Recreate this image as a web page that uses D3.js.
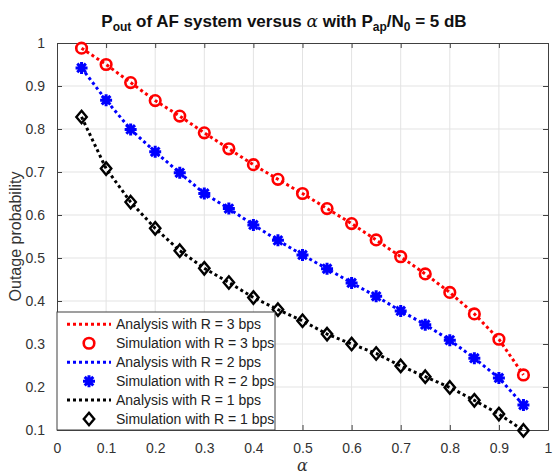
<!DOCTYPE html>
<html><head><meta charset="utf-8">
<script src="https://cdn.jsdelivr.net/npm/d3@7"></script>
<style>body{margin:0;background:#fff;} svg{display:block;font-family:"Liberation Sans",Arial,sans-serif;}</style>
</head><body>
<svg id="chart" width="558" height="474"></svg>
<script>
const alphas = [0.05,0.1,0.15,0.2,0.25,0.3,0.35,0.4,0.45,0.5,0.55,0.6,0.65,0.7,0.75,0.8,0.85,0.9,0.95];
const r3 = [0.988,0.950,0.908,0.866,0.830,0.791,0.754,0.717,0.683,0.650,0.615,0.580,0.542,0.503,0.463,0.420,0.370,0.311,0.228];
const r2 = [0.942,0.867,0.799,0.747,0.698,0.650,0.615,0.577,0.541,0.507,0.475,0.442,0.411,0.377,0.345,0.309,0.267,0.221,0.158];
const r1 = [0.828,0.708,0.630,0.569,0.517,0.476,0.443,0.408,0.380,0.354,0.323,0.300,0.278,0.249,0.224,0.199,0.169,0.137,0.099];
const xTicks = [0,0.1,0.2,0.3,0.4,0.5,0.6,0.7,0.8,0.9,1];
const yTicks = [0.1,0.2,0.3,0.4,0.5,0.6,0.7,0.8,0.9,1];
const legendLabels = ["Analysis with R = 3 bps","Simulation with R = 3 bps","Analysis with R = 2 bps","Simulation with R = 2 bps","Analysis with R = 1 bps","Simulation with R = 1 bps"];

const svg = d3.select("#chart");
const L=57, R=548, T=43, B=430;
const x = d3.scaleLinear().domain([0,1]).range([L,R]);
const y = d3.scaleLinear().domain([0.1,1]).range([B,T]);
const axisColor = "#404040";
const fmt = d => d===0?"0":d===1?"1":d3.format(".1f")(d);

// grid
const g = svg.append("g");
g.selectAll(".gx").data(xTicks.slice(1,-1)).enter().append("line")
 .attr("x1",d=>x(d)).attr("x2",d=>x(d)).attr("y1",T).attr("y2",B)
 .attr("stroke","#e3e3e3").attr("stroke-width",1);
g.selectAll(".gy").data(yTicks.slice(1,-1)).enter().append("line")
 .attr("y1",d=>y(d)).attr("y2",d=>y(d)).attr("x1",L).attr("x2",R)
 .attr("stroke","#e3e3e3").attr("stroke-width",1);

// axes
const xa = svg.append("g").attr("transform",`translate(0,${B})`)
 .call(d3.axisBottom(x).tickValues(xTicks).tickFormat(fmt).tickSizeInner(-5).tickSizeOuter(0).tickPadding(13));
const xt = svg.append("g").attr("transform",`translate(0,${T})`)
 .call(d3.axisTop(x).tickValues(xTicks).tickFormat("").tickSizeInner(-5).tickSizeOuter(0));
const ya = svg.append("g").attr("transform",`translate(${L},0)`)
 .call(d3.axisLeft(y).tickValues(yTicks).tickFormat(fmt).tickSizeInner(-5).tickSizeOuter(0).tickPadding(12));
const yr = svg.append("g").attr("transform",`translate(${R},0)`)
 .call(d3.axisRight(y).tickValues(yTicks).tickFormat("").tickSizeInner(-5).tickSizeOuter(0));
[xa,xt,ya,yr].forEach(a=>{
  a.selectAll("path").attr("stroke",axisColor);
  a.selectAll("line").attr("stroke",axisColor);
  a.selectAll("text").attr("fill","#333").style("font-size","14px").style("font-family","'Liberation Sans',Arial,sans-serif");
});

// series
const series = [
 {vals:r3,color:"#ff0000",marker:"circle"},
 {vals:r2,color:"#0000ff",marker:"star"},
 {vals:r1,color:"#000000",marker:"diamond"}
];
const line = d3.line().x(d=>x(d[0])).y(d=>y(d[1]));
function drawMarker(sel, type, color){
  if(type==="circle"){
    sel.append("circle").attr("r",5.3).attr("fill","none").attr("stroke",color).attr("stroke-width",2.6);
  } else if(type==="star"){
    const s=6, s2=s*0.72;
    sel.append("path").attr("d",`M${-s},0L${s},0M0,${-s}L0,${s}M${-s2},${-s2}L${s2},${s2}M${-s2},${s2}L${s2},${-s2}`)
      .attr("stroke",color).attr("stroke-width",3).attr("fill","none");
  } else {
    sel.append("path").attr("d","M0,-6.2L5.2,0L0,6.2L-5.2,0Z").attr("fill","none").attr("stroke",color).attr("stroke-width",2.4);
  }
}
series.forEach(s=>{
  const pts = alphas.map((a,i)=>[a,s.vals[i]]);
  svg.append("path").datum(pts).attr("d",line).attr("fill","none")
   .attr("stroke",s.color).attr("stroke-width",3).attr("stroke-dasharray","3,3");
  const mg = svg.append("g");
  pts.forEach(p=>{
    const m = mg.append("g").attr("transform",`translate(${x(p[0])},${y(p[1])})`);
    drawMarker(m,s.marker,s.color);
  });
});

// legend
const lg = svg.append("g");
lg.append("rect").attr("x",L).attr("y",312).attr("width",275-L).attr("height",B-312)
 .attr("fill","#fff").attr("stroke",axisColor).attr("stroke-width",1);
legendLabels.forEach((lab,i)=>{
  const s = series[Math.floor(i/2)];
  const cy = 324.3 + i*18.95;
  if(i%2===0){
    lg.append("line").attr("x1",67).attr("x2",111).attr("y1",cy).attr("y2",cy)
     .attr("stroke",s.color).attr("stroke-width",3).attr("stroke-dasharray","3,3");
  } else {
    const m = lg.append("g").attr("transform",`translate(89,${cy})`);
    drawMarker(m,s.marker,s.color);
  }
  lg.append("text").attr("x",116).attr("y",cy+5).text(lab)
   .style("font-size","14px").attr("fill","#222");
});

// title
const title = svg.append("text").attr("x",284).attr("y",27).attr("text-anchor","middle")
 .style("font-size","17px").style("font-weight","bold").attr("fill","#111");
title.append("tspan").text("P");
title.append("tspan").text("out").attr("dy",4).style("font-size","12px");
title.append("tspan").text(" of AF system versus ").attr("dy",-4);
title.append("tspan").text("α").style("font-family","'DejaVu Serif',serif").style("font-style","italic").style("font-weight","normal");
title.append("tspan").text(" with P");
title.append("tspan").text("ap").attr("dy",4).style("font-size","12px");
title.append("tspan").text("/N").attr("dy",-4);
title.append("tspan").text("0").attr("dy",4).style("font-size","12px");
title.append("tspan").text(" = 5 dB").attr("dy",-4);

// axis labels
svg.append("text").attr("transform",`translate(21,${(T+B)/2}) rotate(-90)`).attr("text-anchor","middle")
 .style("font-size","16px").attr("fill","#333").text("Outage probability");
svg.append("text").attr("x",(L+R)/2).attr("y",471).attr("text-anchor","middle")
 .style("font-size","16px").style("font-style","italic").style("font-family","'DejaVu Serif',serif").attr("fill","#333").text("α");
</script>
</body></html>
